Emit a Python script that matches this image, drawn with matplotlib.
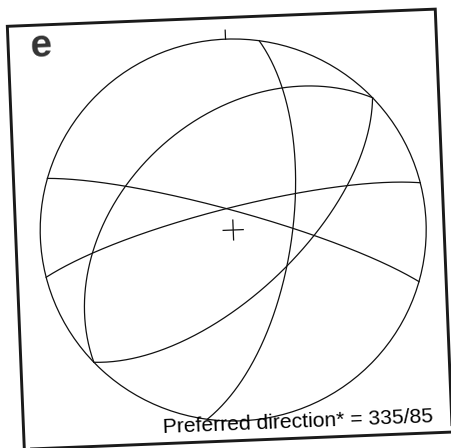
import numpy as np
import matplotlib.pyplot as plt
from matplotlib.transforms import Affine2D
from matplotlib.patches import Circle, Rectangle

# planes as right-hand-rule strike / dip (degrees), equal-area lower hemisphere
strikes = [10, 228.5, 48.5, 288, 258]
dips = [65, 42, 63, 82, 80.5]
label = "Preferred direction* = 335/85"


def great_circle(strike, dip, n=300):
    lam = np.radians(np.linspace(0, 180, n))
    s = np.radians(strike)
    d = np.radians(dip)
    east = np.cos(lam) * np.sin(s) + np.sin(lam) * np.cos(d) * np.sin(s + np.pi / 2)
    north = np.cos(lam) * np.cos(s) + np.sin(lam) * np.cos(d) * np.cos(s + np.pi / 2)
    down = np.sin(lam) * np.sin(d)
    plunge = np.arcsin(np.clip(down, -1, 1))
    trend = np.arctan2(east, north)
    r = np.sqrt(2) * np.sin((np.pi / 2 - plunge) / 2)
    return r * np.sin(trend), r * np.cos(trend)


W, H = 451, 448
cx, cy = 233.2, 230.0   # net centre in pixels (from top-left)
sx, sy = 193.0, 191.0   # net radius in pixels
tilt = 2.3

fig = plt.figure(figsize=(W / 100, H / 100), dpi=100)
ax = fig.add_axes([0, 0, 1, 1])
ax.set_xlim(-cx / sx, (W - cx) / sx)
ax.set_ylim(-(H - cy) / sy, cy / sy)
ax.axis('off')

tr = ax.transData + Affine2D().rotate_deg_around(cx, H - cy, tilt)
ink = '#111111'

# outer frame
ax.add_patch(Rectangle((-1.127, -1.103), 2.219, 2.216, fill=False,
                       edgecolor='#1a1a1a', lw=2.1, transform=tr))

# primitive circle, north tick and centre cross
ax.add_patch(Circle((0, 0), 1, fill=False, edgecolor=ink, lw=0.9, transform=tr))
ax.plot([0, 0], [1, 1.047], color=ink, lw=0.9, transform=tr)
ax.plot([-0.052, 0.052], [0, 0], color=ink, lw=0.9, transform=tr)
ax.plot([0, 0], [-0.052, 0.052], color=ink, lw=0.9, transform=tr)

for s, d in zip(strikes, dips):
    x, y = great_circle(s, d)
    ax.plot(x, y, color=ink, lw=0.9, transform=tr)

ax.text(-1.015, 0.948, 'e', fontsize=28, fontweight='bold', color='#333333',
        family='Liberation Sans', ha='left', va='baseline',
        rotation=tilt, rotation_mode='anchor', transform=tr)
ax.text(-0.405, -1.047, label, fontsize=15.2, color='black',
        family='Liberation Sans', ha='left', va='baseline',
        rotation=tilt, rotation_mode='anchor', transform=tr)

fig.savefig('out.png', dpi=100, facecolor='white')
